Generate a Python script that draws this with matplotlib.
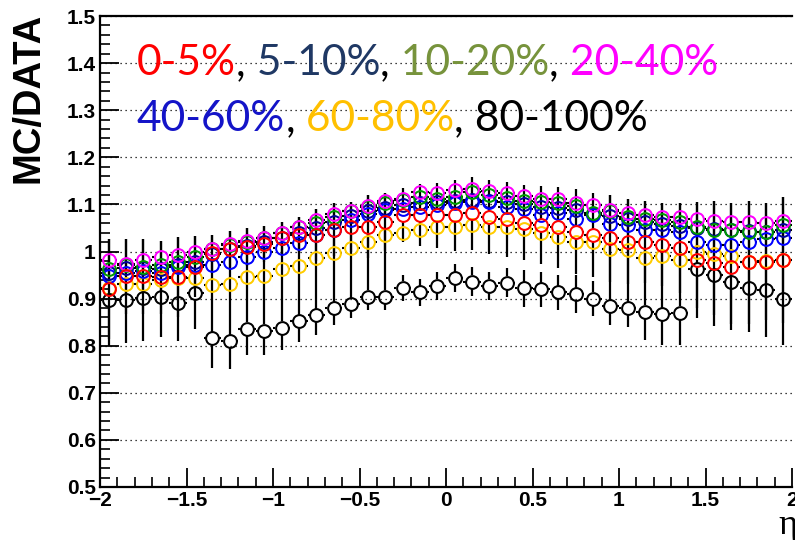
import matplotlib
matplotlib.use('Agg')
import matplotlib.pyplot as plt
from matplotlib.ticker import MultipleLocator, FuncFormatter
import matplotlib.transforms as mtransforms
import numpy as np

# ---------------- data ----------------
eta = [-1.95, -1.85, -1.75, -1.65, -1.55, -1.45, -1.35, -1.25, -1.15, -1.05,
       -0.95, -0.85, -0.75, -0.65, -0.55, -0.45, -0.35, -0.25, -0.15, -0.05,
       0.05, 0.15, 0.25, 0.35, 0.45, 0.55, 0.65, 0.75, 0.85, 0.95,
       1.05, 1.15, 1.25, 1.35, 1.45, 1.55, 1.65, 1.75, 1.85, 1.95]

r_0_5 = [0.920, 0.947, 0.947, 0.945, 0.945, 0.968, 0.996, 1.005, 1.010, 1.016,
         1.028, 1.035, 1.035, 1.046, 1.053, 1.053, 1.063, 1.077, 1.077, 1.077,
         1.077, 1.081, 1.073, 1.068, 1.061, 1.056, 1.051, 1.042, 1.035, 1.028,
         1.021, 1.021, 1.014, 1.007, 0.982, 0.975, 0.968, 0.977, 0.978, 0.982]
e_0_5 = [0.106, 0.080, 0.079, 0.078, 0.085, 0.065, 0.039, 0.038, 0.040, 0.039,
         0.035, 0.039, 0.055, 0.056, 0.053, 0.067, 0.062, 0.057, 0.066, 0.069,
         0.075, 0.077, 0.079, 0.080, 0.080, 0.083, 0.087, 0.090, 0.090, 0.092,
         0.090, 0.087, 0.088, 0.095, 0.124, 0.133, 0.134, 0.131, 0.124, 0.134]

r_5_10 = [0.955, 0.965, 0.965, 0.962, 0.972, 0.978, 0.995, 1.005, 1.012, 1.020,
          1.028, 1.040, 1.050, 1.062, 1.075, 1.085, 1.093, 1.098, 1.103, 1.105,
          1.108, 1.110, 1.108, 1.105, 1.100, 1.095, 1.092, 1.088, 1.080, 1.075,
          1.068, 1.062, 1.058, 1.055, 1.050, 1.048, 1.045, 1.044, 1.042, 1.045]

r_10_20 = [0.962, 0.971, 0.968, 0.971, 0.978, 0.988, 1.005, 1.014, 1.021, 1.028,
           1.039, 1.051, 1.061, 1.074, 1.085, 1.094, 1.102, 1.109, 1.115, 1.111,
           1.116, 1.127, 1.120, 1.113, 1.108, 1.106, 1.102, 1.097, 1.081, 1.085,
           1.074, 1.068, 1.067, 1.063, 1.053, 1.046, 1.046, 1.042, 1.042, 1.056]

r_20_40 = [0.982, 0.973, 0.982, 0.988, 0.993, 1.000, 1.005, 1.016, 1.023, 1.028,
           1.039, 1.053, 1.067, 1.080, 1.087, 1.097, 1.107, 1.111, 1.127, 1.124,
           1.131, 1.132, 1.129, 1.124, 1.118, 1.111, 1.111, 1.104, 1.099, 1.088,
           1.081, 1.077, 1.073, 1.073, 1.068, 1.065, 1.063, 1.063, 1.061, 1.065]

r_40_60 = [0.947, 0.955, 0.959, 0.955, 0.968, 0.971, 0.971, 0.978, 0.989, 1.000,
           1.007, 1.017, 1.035, 1.046, 1.067, 1.080, 1.088, 1.090, 1.095, 1.099,
           1.104, 1.106, 1.106, 1.095, 1.090, 1.077, 1.081, 1.068, 1.077, 1.058,
           1.056, 1.045, 1.046, 1.042, 1.021, 1.014, 1.014, 1.021, 1.026, 1.028]

r_60_80 = [0.922, 0.932, 0.932, 0.939, 0.943, 0.943, 0.929, 0.932, 0.945, 0.947,
           0.962, 0.969, 0.986, 0.997, 1.007, 1.021, 1.034, 1.040, 1.046, 1.053,
           1.053, 1.056, 1.053, 1.053, 1.047, 1.039, 1.031, 1.021, 1.021, 1.005,
           1.003, 0.987, 0.990, 0.982, 1.000, 0.995, 0.990, 0.977, 0.980, 0.982]

r_80_100 = [0.897, 0.898, 0.902, 0.904, 0.890, 0.911, 0.816, 0.810, 0.836, 0.832,
            0.838, 0.852, 0.865, 0.880, 0.888, 0.904, 0.904, 0.923, 0.913, 0.927,
            0.943, 0.936, 0.927, 0.934, 0.922, 0.920, 0.913, 0.910, 0.900, 0.884,
            0.879, 0.872, 0.867, 0.870, 0.962, 0.950, 0.936, 0.922, 0.918, 0.899]
e_80_100_lo = [0.097, 0.092, 0.092, 0.086, 0.080, 0.076, 0.063, 0.060, 0.056, 0.052,
               0.048, 0.044, 0.042, 0.036, 0.030, 0.028, 0.028, 0.028, 0.028, 0.030,
               0.030, 0.031, 0.030, 0.031, 0.039, 0.037, 0.037, 0.040, 0.038, 0.040,
               0.039, 0.060, 0.066, 0.069, 0.083, 0.085, 0.090, 0.092, 0.099, 0.098]
e_80_100_hi = [0.129, 0.129, 0.124, 0.119, 0.140, 0.122, 0.219, 0.233, 0.214, 0.223,
               0.225, 0.222, 0.225, 0.222, 0.218, 0.216, 0.221, 0.028, 0.028, 0.030,
               0.030, 0.031, 0.030, 0.031, 0.039, 0.037, 0.037, 0.040, 0.038, 0.236,
               0.232, 0.236, 0.235, 0.232, 0.144, 0.158, 0.166, 0.186, 0.184, 0.217]

bin_half_width = 0.05

x_ticks = [-2, -1.5, -1, -0.5, 0, 0.5, 1, 1.5, 2]
y_ticks = [0.5, 0.6, 0.7, 0.8, 0.9, 1.0, 1.1, 1.2, 1.3, 1.4, 1.5]

legend_line1 = [("0-5%", "#FF0000"), (",", "black"), (" 5-10%", "#1F3864"), (",", "black"),
                (" 10-20%", "#77933C"), (",", "black"), (" 20-40%", "#FF00FF")]
legend_line2 = [("40-60%", "#1414C8"), (",", "black"), (" 60-80%", "#FFC000"), (",", "black"),
                (" 80-100%", "black")]

# ---------------- figure ----------------
W, H = 795, 540
fig = plt.figure(figsize=(W / 100, H / 100), dpi=100)
ax = fig.add_axes([100 / W, 53 / H, 692 / W, 471 / H])
ax.set_xlim(-2, 2)
ax.set_ylim(0.5, 1.5)

# marker radius in data units (ROOT leaves a gap in the error bars at the marker)
MS = 9.2  # points
rad_px = MS / 2 * 100 / 72
gx = rad_px * 4.0 / 692
gy = rad_px * 1.0 / 471


def draw_series(vals, color, lo=None, hi=None, z=3):
    x = np.asarray(eta)
    y = np.asarray(vals)
    # horizontal (bin width) bars
    ax.hlines(y, x - bin_half_width, x - gx, colors='black', lw=1.5, zorder=z)
    ax.hlines(y, x + gx, x + bin_half_width, colors='black', lw=1.5, zorder=z)
    if lo is not None:
        lo = np.asarray(lo)
        hi = np.asarray(hi)
        m1 = lo > gy
        ax.vlines(x[m1], (y - lo)[m1], (y - gy)[m1], colors='black', lw=1.6, zorder=z)
        m2 = hi > gy
        ax.vlines(x[m2], (y + gy)[m2], (y + hi)[m2], colors='black', lw=1.6, zorder=z)
    ax.plot(x, y, 'o', ms=MS, mfc='none', mec=color, mew=1.45, zorder=z + 0.5)


draw_series(r_60_80, '#FFCC00')
draw_series(r_80_100, 'black', e_80_100_lo, e_80_100_hi)
draw_series(r_5_10, '#000099')
draw_series(r_40_60, '#0000FF')
draw_series(r_10_20, '#009900')
draw_series(r_20_40, '#FF00FF')
draw_series(r_0_5, '#FF0000', e_0_5, e_0_5)

# grid
ax.set_yticks(y_ticks)
ax.set_xticks(x_ticks)
ax.yaxis.set_minor_locator(MultipleLocator(0.02))
ax.xaxis.set_minor_locator(MultipleLocator(0.1))
ax.yaxis.grid(True, which='major', linestyle=(0, (1, 3)), color='black', lw=0.9)
ax.set_axisbelow(True)


def fmt(v, pos):
    return f"{v:g}".replace('-', '\u2212')


ax.xaxis.set_major_formatter(FuncFormatter(fmt))
ax.yaxis.set_major_formatter(FuncFormatter(fmt))

ax.tick_params(which='major', direction='in', length=14, width=1.3, top=False, right=False,
               labelsize=15, pad=3)
ax.tick_params(which='minor', direction='in', length=7, width=1.2, top=False, right=False)
for lab in ax.get_xticklabels() + ax.get_yticklabels():
    lab.set_fontweight('bold')
    lab.set_family('Liberation Sans')

for s in ['left', 'bottom', 'top']:
    ax.spines[s].set_linewidth(1.6)
ax.spines['right'].set_visible(False)

# axis titles
fig.text(29 / W, 1 - 98 / H, 'MC/DATA', rotation=90, fontsize=27.5, fontweight='bold',
         family='Liberation Sans', ha='center', va='center')
fig.text(788 / W, 1 - 526 / H, '\u03b7', fontsize=26, family='Liberation Serif',
         ha='center', va='center')

# legend-like coloured text
fig.canvas.draw()
renderer = fig.canvas.get_renderer()
ident = mtransforms.IdentityTransform()


def draw_line(pieces, x0, ybase):
    x = x0
    for s, c in pieces:
        t = fig.text(x, H - ybase, s, color=c, fontsize=30.6, family='Lato',
                     ha='left', va='baseline', transform=ident)
        bb = t.get_window_extent(renderer)
        x = bb.x1


draw_line(legend_line1, 137, 75)
draw_line(legend_line2, 137, 131)

fig.savefig('out.png', dpi=100)
